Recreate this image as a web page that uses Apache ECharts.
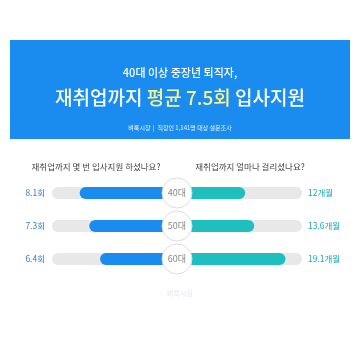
<!DOCTYPE html>
<html><head><meta charset="utf-8">
<script src="https://cdn.jsdelivr.net/npm/echarts@6/dist/echarts.min.js"></script>
<style>html,body{margin:0;padding:0;background:#fff}#c{width:360px;height:347px}</style>
</head><body><div id="c"></div>
<script>
const ages = ['40대', '50대', '60대'];
const applications = [8.1, 7.3, 6.4];      // 회
const months = [12, 13.6, 19.1];           // 개월
const titleLine1 = '40대 이상 중장년 퇴직자,';
const sourceText = '벼룩시장  |  직장인 1,141명 대상 설문조사';
const qLeft = '재취업까지 몇 번 입사지원 하셨나요?';
const qRight = '재취업까지 얼마나 걸리셨나요?';

const BLUE = '#1a8cf0', TEAL = '#1fbfc0', TRACK = '#e8e8e8';
const FONT = '"Noto Sans CJK KR", "Noto Sans", sans-serif';
const chart = echarts.init(document.getElementById('c'));
const gTop = 176.5, gH = 99;
chart.setOption({
  animation: false,
  textStyle: { fontFamily: FONT },
  graphic: [
    { type: 'rect', shape: { x: 10, y: 40, width: 340, height: 99 }, style: { fill: BLUE } },
    { type: 'text', x: 180, y: 73, style: { text: titleLine1, fill: '#fff', font: '500 11px ' + FONT, align: 'center', verticalAlign: 'middle' } },
    { type: 'text', x: 180, y: 98, style: {
        text: '{w|재취업까지 }{y|평균 7.5회}{w| 입사지원}',
        align: 'center', verticalAlign: 'middle',
        rich: { w: { fill: '#fff', font: '500 19px ' + FONT }, y: { fill: '#f6f28c', font: '500 19px ' + FONT } } } },
    { type: 'text', x: 180, y: 128, style: { text: sourceText, fill: '#e8f3ff', font: '6px ' + FONT, align: 'center', verticalAlign: 'middle' } },
    { type: 'text', x: 96, y: 167, style: { text: qLeft, fill: '#444', font: '8.5px ' + FONT, align: 'center', verticalAlign: 'middle' } },
    { type: 'text', x: 250, y: 167, style: { text: qRight, fill: '#444', font: '8.5px ' + FONT, align: 'center', verticalAlign: 'middle' } },
    { type: 'text', x: 180, y: 293, style: { text: '벼룩시장', fill: '#eceef4', font: 'bold 7px ' + FONT, align: 'center', verticalAlign: 'middle' } }
  ],
  grid: [
    { left: 52, top: gTop, width: 125, height: gH },
    { left: 177, top: gTop, width: 125, height: gH }
  ],
  xAxis: [
    { gridIndex: 0, type: 'value', min: 0, max: 10.4, inverse: true, show: false },
    { gridIndex: 1, type: 'value', min: 0, max: 22, show: false }
  ],
  yAxis: [
    { gridIndex: 0, type: 'category', data: ages, inverse: true, position: 'left',
      axisLine: { show: false }, axisTick: { show: false }, splitLine: { show: false },
      axisLabel: { margin: 7, fontSize: 8.5, color: '#2f7fcc', formatter: (v, i) => applications[i] + '회' } },
    { gridIndex: 1, type: 'category', data: ages, inverse: true, position: 'right',
      axisLine: { show: false }, axisTick: { show: false }, splitLine: { show: false },
      axisLabel: { margin: 6, fontSize: 8.5, color: '#1aa9b0', formatter: (v, i) => months[i] + '개월' } }
  ],
  series: [
    { type: 'bar', xAxisIndex: 0, yAxisIndex: 0, data: applications, barWidth: 12,
      itemStyle: { color: BLUE, borderRadius: 6 },
      showBackground: true, backgroundStyle: { color: TRACK, borderRadius: 6 } },
    { type: 'bar', xAxisIndex: 1, yAxisIndex: 1, data: months, barWidth: 12,
      itemStyle: { color: TEAL, borderRadius: 6 },
      showBackground: true, backgroundStyle: { color: TRACK, borderRadius: 6 } },
    { type: 'scatter', xAxisIndex: 1, yAxisIndex: 1, clip: false, z: 10,
      data: ages.map((a, i) => [0, i]), symbolSize: 30,
      itemStyle: { color: '#fff', opacity: 1, borderColor: '#dcdcdc', borderWidth: 1 },
      label: { show: true, position: 'inside', fontSize: 9, color: '#888', formatter: p => ages[p.dataIndex] } }
  ]
});
</script></body></html>
